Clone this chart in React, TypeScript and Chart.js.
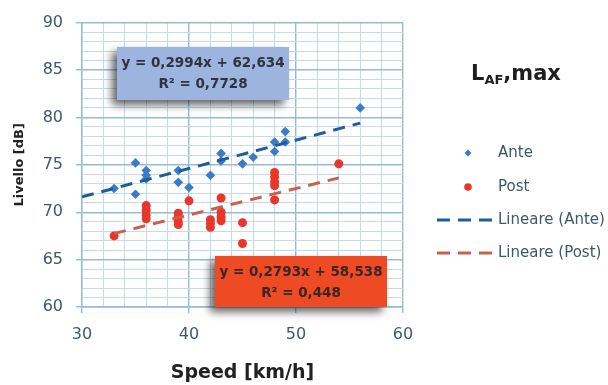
import { useEffect, useRef } from 'react';
import { Chart, registerables } from 'chart.js';
Chart.register(...registerables);

// ---- Data ----
const anteSpeed = [33, 35, 35, 36, 36, 36, 39, 39, 40, 42, 43, 43, 45, 46, 48, 48, 49, 49, 56];
const anteLevel = [72.5, 75.2, 71.9, 74.4, 73.9, 73.5, 74.4, 73.15, 72.6, 73.9, 76.2, 75.4, 75.1, 75.8, 77.4, 76.4, 78.5, 77.4, 81.0];

const postSpeed = [33, 36, 36, 36, 36, 39, 39, 39, 39, 40, 42, 42, 42, 43, 43, 43, 43, 45, 45, 48, 48, 48, 48, 48, 54];
const postLevel = [67.5, 70.7, 70.2, 69.7, 69.3, 69.9, 69.5, 69.0, 68.7, 71.2, 69.2, 68.8, 68.4, 71.5, 70.0, 69.5, 69.1, 68.9, 66.7, 74.2, 73.7, 73.2, 72.8, 71.3, 75.1];

const anteTrend = { slope: 0.2994, intercept: 62.634, r2: 0.7728, from: 30, to: 56 };
const postTrend = { slope: 0.2793, intercept: 58.538, r2: 0.448, from: 33, to: 54 };

const seriesLabels = ['Ante', 'Post', 'Lineare (Ante)', 'Lineare (Post)'];
const legendTitle = { main: 'L', sub: 'AF', rest: ',max' };
const xTitle = 'Speed [km/h]';
const yTitle = 'Livello [dB]';
const xRange = [30, 60];
const yRange = [60, 90];

// ---- Styles ----
const BLUE = '#3b7cc6';
const RED = '#e8372a';
const BLUE_TREND = '#1d5d9c';
const RED_TREND = '#c9604c';
const GRID_MINOR = '#c3dbea';
const GRID_MAJOR = '#93bcd6';
const TICK_COLOR = '#3e5a66';
const FONT = "'DejaVu Sans'";

const fmt = (v: number) => String(v).replace('.', ',');
const trendPoints = (t: typeof anteTrend) => [
  { x: t.from, y: t.slope * t.from + t.intercept },
  { x: t.to, y: t.slope * t.to + t.intercept },
];

const overlayPlugin = {
  id: 'overlay',
  afterDraw(chart: any) {
    const ctx: CanvasRenderingContext2D = chart.ctx;
    const drawBox = (x: number, y: number, w: number, h: number, fill: string, textColor: string, t: typeof anteTrend) => {
      ctx.save();
      ctx.shadowColor = 'rgba(0,0,0,0.6)';
      ctx.shadowBlur = 8;
      ctx.shadowOffsetX = -5;
      ctx.shadowOffsetY = 5;
      ctx.fillStyle = fill;
      ctx.fillRect(x, y, w, h);
      ctx.restore();
      ctx.save();
      ctx.fillStyle = textColor;
      ctx.font = `bold 13.5px ${FONT}`;
      ctx.textAlign = 'center';
      ctx.textBaseline = 'middle';
      ctx.fillText(`y = ${fmt(t.slope)}x + ${fmt(t.intercept)}`, x + w / 2, y + 16);
      ctx.fillText(`R² = ${fmt(t.r2)}`, x + w / 2, y + 37);
      ctx.restore();
    };
    drawBox(117, 47, 172, 53, '#9db4df', '#2e3440', anteTrend);
    drawBox(215, 256, 172, 51, '#ee4a24', '#3a2624', postTrend);

    // Legend title
    ctx.save();
    ctx.fillStyle = '#1f1f1f';
    ctx.textBaseline = 'alphabetic';
    ctx.textAlign = 'left';
    let tx = 471;
    const ty = 80;
    ctx.font = `bold 21px ${FONT}`;
    ctx.fillText(legendTitle.main, tx, ty);
    tx += ctx.measureText(legendTitle.main).width;
    ctx.font = `bold 13px ${FONT}`;
    ctx.fillText(legendTitle.sub, tx, ty + 4);
    tx += ctx.measureText(legendTitle.sub).width;
    ctx.font = `bold 21px ${FONT}`;
    ctx.fillText(legendTitle.rest, tx, ty);
    ctx.restore();

    // Legend items
    const ys = [153, 187, 220, 253];
    ctx.save();
    ctx.font = `15px ${FONT}`;
    ctx.fillStyle = '#3d5866';
    ctx.textBaseline = 'middle';
    ctx.textAlign = 'left';
    chart.data.datasets.forEach((ds: any, i: number) => {
      const y = ys[i];
      if (i === 0) {
        ctx.save();
        ctx.fillStyle = BLUE;
        ctx.beginPath();
        ctx.moveTo(468, y - 3.5);
        ctx.lineTo(471.5, y);
        ctx.lineTo(468, y + 3.5);
        ctx.lineTo(464.5, y);
        ctx.closePath();
        ctx.fill();
        ctx.restore();
      } else if (i === 1) {
        ctx.save();
        ctx.fillStyle = RED;
        ctx.beginPath();
        ctx.arc(468, y, 3.8, 0, Math.PI * 2);
        ctx.fill();
        ctx.restore();
      } else {
        ctx.save();
        ctx.strokeStyle = ds.borderColor;
        ctx.lineWidth = 3;
        ctx.setLineDash([13, 8]);
        ctx.beginPath();
        ctx.moveTo(437, y);
        ctx.lineTo(492, y);
        ctx.stroke();
        ctx.restore();
      }
      ctx.fillText(ds.label, 498, y);
    });
    ctx.restore();
  },
};

export default function App() {
  const ref = useRef<HTMLCanvasElement>(null);
  useEffect(() => {
    const chart = new Chart(ref.current as HTMLCanvasElement, {
      type: 'scatter',
      data: {
        datasets: [
          {
            label: seriesLabels[0],
            data: anteSpeed.map((x, i) => ({ x, y: anteLevel[i] })),
            backgroundColor: BLUE,
            borderColor: BLUE,
            pointStyle: 'rectRot',
            pointRadius: 4.8,
            borderWidth: 0,
            order: 2,
          },
          {
            label: seriesLabels[1],
            data: postSpeed.map((x, i) => ({ x, y: postLevel[i] })),
            backgroundColor: RED,
            borderColor: RED,
            pointStyle: 'circle',
            pointRadius: 4.5,
            borderWidth: 0,
            order: 3,
          },
          {
            type: 'line',
            label: seriesLabels[2],
            data: trendPoints(anteTrend),
            borderColor: BLUE_TREND,
            borderWidth: 3,
            borderDash: [12, 8],
            pointRadius: 0,
            fill: false,
            order: 0,
          } as any,
          {
            type: 'line',
            label: seriesLabels[3],
            data: trendPoints(postTrend),
            borderColor: RED_TREND,
            borderWidth: 3,
            borderDash: [12, 8],
            pointRadius: 0,
            fill: false,
            order: 1,
          } as any,
        ],
      },
      options: {
        responsive: false,
        animation: false,
        layout: { padding: { top: 21, right: 205, left: 0, bottom: 0 } },
        plugins: { legend: { display: false }, tooltip: { enabled: false } },
        scales: {
          x: {
            type: 'linear',
            min: xRange[0],
            max: xRange[1],
            afterFit: (s: any) => { s.height = 78; },
            ticks: {
              stepSize: 2,
              autoSkip: false,
              maxRotation: 0,
              padding: 12,
              color: TICK_COLOR,
              font: { family: FONT, size: 16 },
              callback: (v: any) => (Number(v) % 10 === 0 ? String(v) : ''),
            },
            grid: {
              color: (c: any) => (c.tick && c.tick.value % 10 === 0 ? GRID_MAJOR : GRID_MINOR),
              lineWidth: (c: any) => (c.tick && c.tick.value % 10 === 0 ? 1.4 : 1),
              tickColor: (c: any) => (c.tick && c.tick.value % 10 === 0 ? GRID_MAJOR : 'rgba(0,0,0,0)'),
              tickLength: 6,
            },
            border: { color: GRID_MAJOR, width: 1.4 },
            title: {
              display: true,
              text: xTitle,
              color: '#222222',
              font: { family: FONT, size: 19, weight: 'bold' },
              padding: { top: 0, bottom: 1 },
            },
          },
          y: {
            type: 'linear',
            min: yRange[0],
            max: yRange[1],
            afterFit: (s: any) => { s.width = 82; },
            ticks: {
              stepSize: 1,
              autoSkip: false,
              padding: 13,
              color: TICK_COLOR,
              font: { family: FONT, size: 16 },
              callback: (v: any) => (Number(v) % 5 === 0 ? String(v) : ''),
            },
            grid: {
              color: (c: any) => (c.tick && c.tick.value % 5 === 0 ? GRID_MAJOR : GRID_MINOR),
              lineWidth: (c: any) => (c.tick && c.tick.value % 5 === 0 ? 1.4 : 1),
              tickColor: (c: any) => (c.tick && c.tick.value % 5 === 0 ? GRID_MAJOR : 'rgba(0,0,0,0)'),
              tickLength: 6,
            },
            border: { color: GRID_MAJOR, width: 1.4 },
            title: {
              display: true,
              text: yTitle,
              color: '#222222',
              font: { family: FONT, size: 13, weight: 'bold' },
              padding: { top: 12, bottom: 0 },
            },
          },
        },
      },
      plugins: [overlayPlugin],
    });
    return () => chart.destroy();
  }, []);
  return (
    <div style={{ position: 'fixed', left: 0, top: 0, width: 608, height: 385, background: '#ffffff' }}>
      <canvas ref={ref} width={608} height={385} style={{ display: 'block', width: 608, height: 385 }} />
    </div>
  );
}
